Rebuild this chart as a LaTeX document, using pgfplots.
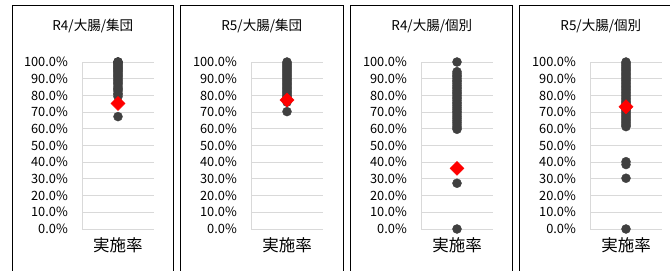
\documentclass[border=0pt]{standalone}
\usepackage{fontspec}
\setmainfont{Noto Sans CJK JP}
\usepackage{pgfplots}
\pgfplotsset{compat=1.18}
\definecolor{dotgray}{HTML}{404040}
\definecolor{gridgray}{HTML}{D9D9D9}
\pgfplotsset{panel/.style={
  scale only axis, width=72bp, height=167bp,
  anchor=south west,
  xmin=0, xmax=2, ymin=0, ymax=100,
  clip=false,
  axis lines*=left,
  axis line style={-, draw=gridgray, line width=0.8bp},
  xtick={1}, xticklabels={実施率},
  ytick={0,10,20,30,40,50,60,70,80,90,100},
  yticklabels={0.0\%,10.0\%,20.0\%,30.0\%,40.0\%,50.0\%,60.0\%,70.0\%,80.0\%,90.0\%,100.0\%},
  ymajorgrids, grid style={draw=gridgray, line width=0.8bp},
  major tick length=0pt, tick style={draw=none},
  yticklabel style={font=\fontsize{12.8bp}{13bp}\selectfont, anchor=east, inner sep=0pt, xshift=-14bp},
  xticklabel style={font=\fontsize{16.5bp}{17bp}\selectfont, anchor=center, inner sep=0pt, yshift=-16bp},
  title style={font=\fontsize{13.5bp}{14bp}\selectfont, anchor=center, at={(axis description cs:0.5,1)}, xshift=-25.25bp, yshift=30bp, inner sep=0pt},
}, dots/.style={only marks, mark=*, mark size=4.5bp, color=dotgray},
   avg/.style={only marks, mark=square*, mark size=5bp, mark options={rotate=45}, color=red}}
\begin{document}
\begin{tikzpicture}
\useasboundingbox (0,0) rectangle (670bp,271bp);
\clip (0,0) rectangle (670bp,271bp);
\fill[white] (0,0) rectangle (670bp,271bp);
\foreach \l/\r in {12/173.5, 180.7/343, 350/512.7, 519/681}{
  \draw[black, line width=1bp] (\l bp,-10bp) -- (\l bp,265bp) -- (\r bp,265bp) -- (\r bp,-10bp);
}
\begin{axis}[panel, at={(82bp,42bp)}, title={R4/大腸/集団}]
\addplot[dots] coordinates {(1,100) (1,100) (1,100) (1,99.4) (1,98.8) (1,98.1) (1,97.5) (1,96.8) (1,96.2) (1,95.6) (1,94.9) (1,94.3) (1,93.5) (1,92.8) (1,92.0) (1,91.3) (1,90.5) (1,89.6) (1,88.8) (1,87.9) (1,87.2) (1,86.3) (1,85.1) (1,84.2) (1,83.5) (1,82.6) (1,81.2) (1,80.5) (1,79.3) (1,67.3)};
\addplot[avg] coordinates {(1,75.2)};
\end{axis}
\begin{axis}[panel, at={(251bp,42bp)}, title={R5/大腸/集団}]
\addplot[dots] coordinates {(1,100) (1,99.2) (1,98.4) (1,97.6) (1,96.8) (1,96.0) (1,95.2) (1,94.4) (1,93.6) (1,92.8) (1,92.0) (1,91.2) (1,90.4) (1,89.6) (1,88.8) (1,88.0) (1,87.2) (1,86.4) (1,85.6) (1,84.8) (1,84.0) (1,83.2) (1,82.4) (1,81.6) (1,80.8) (1,80.0) (1,79.2) (1,78.4) (1,77.6) (1,76.8) (1,76.0) (1,70.3)};
\addplot[avg] coordinates {(1,77.2)};
\end{axis}
\begin{axis}[panel, at={(421bp,42bp)}, title={R4/大腸/個別}]
\addplot[dots] coordinates {(1,100) (1,94.2) (1,93.1) (1,92.0) (1,91.2) (1,90.1) (1,89.0) (1,88.2) (1,87.1) (1,86.0) (1,85.0) (1,84.1) (1,83.0) (1,82.0) (1,81.2) (1,80.1) (1,79.0) (1,78.1) (1,77.0) (1,75.8) (1,74.9) (1,73.8) (1,72.6) (1,71.5) (1,70.4) (1,69.5) (1,68.3) (1,67.2) (1,66.1) (1,65.0) (1,63.9) (1,62.8) (1,61.6) (1,60.6) (1,59.7) (1,27.4) (1,0)};
\addplot[avg] coordinates {(1,36.3)};
\end{axis}
\begin{axis}[panel, at={(590bp,42bp)}, title={R5/大腸/個別}]
\addplot[dots] coordinates {(1,100) (1,99.2) (1,98.3) (1,97.5) (1,96.6) (1,95.8) (1,95.0) (1,94.1) (1,93.2) (1,92.4) (1,91.5) (1,90.6) (1,89.7) (1,88.9) (1,88.0) (1,87.1) (1,86.2) (1,85.3) (1,84.5) (1,83.6) (1,82.7) (1,81.8) (1,80.9) (1,80.0) (1,79.1) (1,78.2) (1,77.3) (1,76.4) (1,75.6) (1,74.7) (1,73.8) (1,72.9) (1,72.0) (1,71.1) (1,70.2) (1,69.3) (1,68.4) (1,67.5) (1,66.6) (1,65.7) (1,64.8) (1,63.9) (1,63.0) (1,62.1) (1,61.3) (1,40.3) (1,38.6) (1,30.4) (1,0)};
\addplot[avg] coordinates {(1,73.2)};
\end{axis}
\end{tikzpicture}
\end{document}
